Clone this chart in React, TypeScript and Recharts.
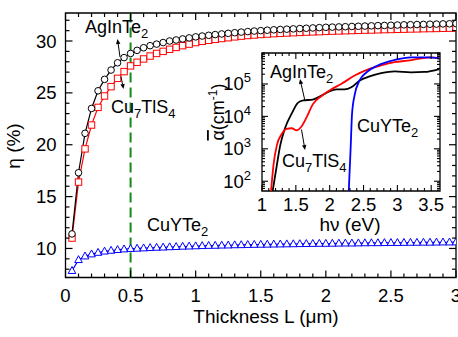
import React from "react";
import {
  ComposedChart,
  Line,
  XAxis,
  YAxis,
  ReferenceLine,
  ReferenceArea,
} from "recharts";

// main panel: efficiency vs thickness
const thickness = [
  0.05, 0.1, 0.15, 0.2, 0.25, 0.3, 0.35, 0.4, 0.45, 0.5,
  0.55, 0.6, 0.65, 0.7, 0.75, 0.8, 0.85, 0.9, 0.95, 1,
  1.05, 1.1, 1.15, 1.2, 1.25, 1.3, 1.35, 1.4, 1.45, 1.5,
  1.55, 1.6, 1.65, 1.7, 1.75, 1.8, 1.85, 1.9, 1.95, 2,
  2.05, 2.1, 2.15, 2.2, 2.25, 2.3, 2.35, 2.4, 2.45, 2.5,
  2.55, 2.6, 2.65, 2.7, 2.75, 2.8, 2.85, 2.9, 2.95, 3,
];
const etaAgInTe2 = [
  11.4, 17.3, 21.1, 23.5, 25.2, 26.3, 27.2, 27.9, 28.4, 28.8,
  29.1, 29.35, 29.55, 29.7, 29.85, 30.0, 30.1, 30.2, 30.3, 30.4,
  30.48, 30.55, 30.62, 30.68, 30.74, 30.8, 30.86, 30.91, 30.96, 31.0,
  31.04, 31.08, 31.11, 31.14, 31.17, 31.2, 31.23, 31.26, 31.29, 31.32,
  31.34, 31.36, 31.38, 31.4, 31.42, 31.44, 31.46, 31.48, 31.5, 31.52,
  31.54, 31.56, 31.57, 31.59, 31.6, 31.62, 31.63, 31.65, 31.66, 31.68,
];
const etaCu7TlS4 = [
  11.0, 16.4, 19.6, 21.9, 23.6, 24.7, 25.6, 26.4, 27.05, 27.6,
  27.95, 28.27, 28.55, 28.8, 29.0, 29.2, 29.38, 29.55, 29.7, 29.85,
  29.97, 30.07, 30.16, 30.24, 30.32, 30.4, 30.47, 30.53, 30.58, 30.63,
  30.67, 30.71, 30.74, 30.77, 30.8, 30.83, 30.86, 30.88, 30.9, 30.93,
  30.95, 30.97, 30.99, 31.01, 31.03, 31.05, 31.06, 31.08, 31.1, 31.11,
  31.13, 31.14, 31.16, 31.17, 31.19, 31.2, 31.21, 31.23, 31.24, 31.25,
];
const etaCuYTe2 = [
  7.85, 8.9, 9.25, 9.45, 9.6, 9.72, 9.8, 9.87, 9.93, 9.97,
  10.0, 10.03, 10.06, 10.09, 10.11, 10.14, 10.16, 10.19, 10.21, 10.23,
  10.25, 10.27, 10.28, 10.3, 10.31, 10.33, 10.34, 10.36, 10.37, 10.38,
  10.39, 10.4, 10.41, 10.42, 10.43, 10.44, 10.45, 10.46, 10.47, 10.47,
  10.48, 10.49, 10.5, 10.5, 10.51, 10.52, 10.53, 10.53, 10.54, 10.55,
  10.55, 10.56, 10.57, 10.57, 10.58, 10.58, 10.59, 10.6, 10.6, 10.61,
];
const mainXTicks = [
  0, 0.1, 0.2, 0.3, 0.4, 0.5, 0.6, 0.7, 0.8, 0.9, 1, 1.1, 1.2, 1.3, 1.4, 1.5,
  1.6, 1.7, 1.8, 1.9, 2, 2.1, 2.2, 2.3, 2.4, 2.5, 2.6, 2.7, 2.8, 2.9, 3,
];
const mainXLabels = ["0", "0.5", "1", "1.5", "2", "2.5", "3"];
const mainYTicks = [
  8, 9, 10, 11, 12, 13, 14, 15, 16, 17, 18, 19, 20, 21, 22, 23, 24, 25, 26,
  27, 28, 29, 30, 31, 32,
];
const mainYLabels = ["10", "15", "20", "25", "30"];

// inset: absorption coefficient vs photon energy
const energyAgInTe2 = [
  1.15, 1.22, 1.27, 1.34, 1.44, 1.53, 1.61, 1.75, 1.88, 2.0, 2.1, 2.22, 2.32,
  2.44, 2.59, 2.76, 2.96, 3.2, 3.4, 3.62,
];
const alphaAgInTe2 = [
  40, 320, 1300, 4300, 12300, 26000, 31000, 33000, 44000, 60000, 68000, 68000,
  79000, 126000, 170000, 214000, 245000, 229000, 234000, 288000,
];
const energyCu7TlS4 = [
  1.13, 1.17, 1.22, 1.29, 1.36, 1.44, 1.51, 1.58, 1.66, 1.75, 1.88, 2.02, 2.17,
  2.37, 2.56, 2.76, 2.96, 3.15, 3.35, 3.5, 3.62,
];
const alphaCu7TlS4 = [
  40, 320, 1300, 2800, 4100, 4300, 3700, 4800, 9500, 23400, 42700, 67600,
  100000, 182000, 275000, 372000, 468000, 525000, 617000, 661000, 617000,
];
const energyCuYTe2 = [2.28, 2.31, 2.33, 2.37, 2.44, 2.54, 2.71, 2.96, 3.2, 3.45, 3.62];
const alphaCuYTe2 = [
  40, 1100, 11700, 46800, 126000, 224000, 372000, 550000, 661000, 661000, 617000,
];
const insetXTicks = [
  1, 1.1, 1.2, 1.3, 1.4, 1.5, 1.6, 1.7, 1.8, 1.9, 2, 2.1, 2.2, 2.3, 2.4, 2.5,
  2.6, 2.7, 2.8, 2.9, 3, 3.1, 3.2, 3.3, 3.4, 3.5, 3.6,
];
const insetXLabels = ["1", "1.5", "2", "2.5", "3", "3.5"];
const insetYTicks = [
  60, 70, 80, 90, 100, 200, 300, 400, 500, 600, 700, 800, 900, 1000, 2000, 3000,
  4000, 5000, 6000, 7000, 8000, 9000, 10000, 20000, 30000, 40000, 50000, 60000,
  70000, 80000, 90000, 100000, 200000, 300000, 400000, 500000, 600000, 700000,
  800000, 900000,
];
const insetYExponents = ["2", "3", "4", "5"];

const FONT = "'Liberation Sans', Arial, Helvetica, sans-serif";
const TICK_FS = 18.5;
const TITLE_FS = 19;

// layout
const MAIN_TOP = 13;
const MAIN_LEFT = 65.5;
const MAIN_RIGHT = 456;
const MAIN_BOTTOM = 277.5;
const INSET_BOX = { left: 200, top: 50, width: 246, height: 190 };
const IN_LEFT = 62;
const IN_TOP = 3;
const IN_RIGHT = 240;
const IN_BOTTOM = 141;

const mainData = thickness.map((L, i) => ({
  L,
  agin: etaAgInTe2[i],
  cutl: etaCu7TlS4[i],
  cuy: etaCuYTe2[i],
}));
const insetAg = energyAgInTe2.map((e, i) => ({ e, a: alphaAgInTe2[i] }));
const insetCu7 = energyCu7TlS4.map((e, i) => ({ e, a: alphaCu7TlS4[i] }));
const insetCuY = energyCuYTe2.map((e, i) => ({ e, a: alphaCuYTe2[i] }));

const isHalf = (v: number) => Math.abs(v * 2 - Math.round(v * 2)) < 1e-6;

const MainXTick = ({ x, y, payload }: any) => {
  const v = payload.value;
  const major = isHalf(v);
  const len = major ? 7 : 4;
  const label = mainXLabels.find((s) => Math.abs(parseFloat(s) - v) < 1e-6);
  return (
    <g>
      <line x1={x} x2={x} y1={y} y2={y - len} stroke="#000" strokeWidth={1.2} />
      <line x1={x} x2={x} y1={MAIN_TOP} y2={MAIN_TOP + len} stroke="#000" strokeWidth={1.2} />
      {label && (
        <text x={x} y={y + 24} textAnchor="middle" fontSize={TICK_FS} fontFamily={FONT} fill="#000">
          {label}
        </text>
      )}
    </g>
  );
};

const MainYTick = ({ x, y, payload }: any) => {
  const v = payload.value;
  const major = v % 5 === 0;
  const len = major ? 7 : 4;
  const label = mainYLabels.find((s) => parseFloat(s) === v);
  return (
    <g>
      <line x1={x} x2={x + len} y1={y} y2={y} stroke="#000" strokeWidth={1.2} />
      <line x1={MAIN_RIGHT} x2={MAIN_RIGHT - len} y1={y} y2={y} stroke="#000" strokeWidth={1.2} />
      {label && (
        <text x={x - 9} y={y + 6.5} textAnchor="end" fontSize={TICK_FS} fontFamily={FONT} fill="#000">
          {label}
        </text>
      )}
    </g>
  );
};

const InsetXTick = ({ x, y, payload }: any) => {
  const v = payload.value;
  const major = isHalf(v);
  const len = major ? 6 : 3;
  const label = insetXLabels.find((s) => Math.abs(parseFloat(s) - v) < 1e-6);
  return (
    <g>
      <line x1={x} x2={x} y1={y} y2={y - len} stroke="#000" strokeWidth={1.1} />
      <line x1={x} x2={x} y1={IN_TOP} y2={IN_TOP + len} stroke="#000" strokeWidth={1.1} />
      {label && (
        <text x={x} y={y + 20} textAnchor="middle" fontSize={TICK_FS} fontFamily={FONT} fill="#000">
          {label}
        </text>
      )}
    </g>
  );
};

const InsetYTick = ({ x, y, payload }: any) => {
  const v = payload.value;
  const exp = Math.log10(v);
  const major = Math.abs(exp - Math.round(exp)) < 1e-6;
  const len = major ? 6 : 3;
  const label = major ? insetYExponents.find((s) => parseFloat(s) === Math.round(exp)) : undefined;
  return (
    <g>
      <line x1={x} x2={x + len} y1={y} y2={y} stroke="#000" strokeWidth={1.1} />
      <line x1={IN_RIGHT} x2={IN_RIGHT - len} y1={y} y2={y} stroke="#000" strokeWidth={1.1} />
      {label && (
        <text x={x - 11} y={y + 6.5} textAnchor="end" fontSize={TICK_FS} fontFamily={FONT} fill="#000">
          10
          <tspan dy={-8} fontSize={13}>
            {label}
          </tspan>
        </text>
      )}
    </g>
  );
};

const squareDot = (props: any) => {
  const { cx, cy, index } = props;
  return (
    <rect key={`sq-${index}`} x={cx - 3.2} y={cy - 3.2} width={6.4} height={6.4} fill="#fff" stroke="#f00" strokeWidth={1} />
  );
};

const triangleDot = (props: any) => {
  const { cx, cy, index } = props;
  return (
    <polygon
      key={`tr-${index}`}
      points={`${cx},${cy - 4.2} ${cx - 3.8},${cy + 2.7} ${cx + 3.8},${cy + 2.7}`}
      fill="#fff"
      stroke="#00f"
      strokeWidth={1}
    />
  );
};

const Arrow = ({ x1, y1, x2, y2 }: { x1: number; y1: number; x2: number; y2: number }) => {
  const ang = Math.atan2(y2 - y1, x2 - x1);
  const h = 5;
  const w = 2.2;
  const bx = x2 - h * Math.cos(ang);
  const by = y2 - h * Math.sin(ang);
  const px = -Math.sin(ang) * w;
  const py = Math.cos(ang) * w;
  return (
    <g>
      <line x1={x1} y1={y1} x2={bx} y2={by} stroke="#000" strokeWidth={1} />
      <polygon points={`${x2},${y2} ${bx + px},${by + py} ${bx - px},${by - py}`} fill="#000" />
    </g>
  );
};

const Formula = ({ x, y, parts }: { x: number; y: number; parts: [string, boolean][] }) => (
  <text x={x} y={y} fontSize={18} fontFamily={FONT} fill="#000">
    {parts.map(([s, sub], i) => {
      const prevSub = i > 0 && parts[i - 1][1];
      const dy = sub ? 5 : prevSub ? -5 : 0;
      return (
        <tspan key={i} dy={dy} fontSize={sub ? 13 : 18}>
          {s}
        </tspan>
      );
    })}
  </text>
);

export default function App() {
  return (
    <div style={{ position: "absolute", left: 0, top: 0, width: 458, height: 337, background: "#fff" }}>
      <div style={{ position: "absolute", left: 0, top: 0 }}>
        <ComposedChart
          width={458}
          height={337}
          data={mainData}
          margin={{ top: MAIN_TOP, right: 458 - MAIN_RIGHT, left: 0, bottom: 0 }}
        >
          <XAxis
            dataKey="L"
            type="number"
            domain={[0, 3]}
            allowDataOverflow
            ticks={mainXTicks}
            interval={0}
            tick={<MainXTick />}
            tickLine={false}
            axisLine={false}
            tickSize={0}
            tickMargin={0}
            height={337 - MAIN_BOTTOM}
          />
          <YAxis
            type="number"
            domain={[7.2, 32.7]}
            allowDataOverflow
            ticks={mainYTicks}
            interval={0}
            tick={<MainYTick />}
            tickLine={false}
            axisLine={false}
            tickSize={0}
            tickMargin={0}
            width={MAIN_LEFT}
          />
          <ReferenceArea x1={0} x2={3} y1={7.2} y2={32.7} fill="none" stroke="#000" strokeWidth={1.3} fillOpacity={0} />
          <ReferenceLine x={0.5} stroke="#168a16" strokeWidth={2} strokeDasharray="10 5" />
          <Line
            dataKey="cuy"
            stroke="#00f"
            strokeWidth={1.2}
            dot={triangleDot}
            isAnimationActive={false}
          />
          <Line
            dataKey="cutl"
            stroke="#f00"
            strokeWidth={1.2}
            dot={squareDot}
            isAnimationActive={false}
          />
          <Line
            dataKey="agin"
            stroke="#000"
            strokeWidth={1.2}
            dot={{ r: 3.3, fill: "#fff", stroke: "#000", strokeWidth: 1 }}
            isAnimationActive={false}
          />
        </ComposedChart>
      </div>

      {/* inset background */}
      <div
        style={{
          position: "absolute",
          left: INSET_BOX.left + IN_LEFT,
          top: INSET_BOX.top + IN_TOP,
          width: IN_RIGHT - IN_LEFT,
          height: IN_BOTTOM - IN_TOP,
          background: "#fff",
        }}
      />
      <div style={{ position: "absolute", left: INSET_BOX.left, top: INSET_BOX.top }}>
        <ComposedChart
          width={INSET_BOX.width}
          height={INSET_BOX.height}
          margin={{ top: IN_TOP, right: INSET_BOX.width - IN_RIGHT, left: 0, bottom: 0 }}
        >
          <XAxis
            dataKey="e"
            type="number"
            domain={[1, 3.63]}
            allowDataOverflow
            ticks={insetXTicks}
            interval={0}
            tick={<InsetXTick />}
            tickLine={false}
            axisLine={false}
            tickSize={0}
            tickMargin={0}
            height={INSET_BOX.height - IN_BOTTOM}
          />
          <YAxis
            type="number"
            scale="log"
            domain={[50, 900000]}
            allowDataOverflow
            ticks={insetYTicks}
            interval={0}
            tick={<InsetYTick />}
            tickLine={false}
            axisLine={false}
            tickSize={0}
            tickMargin={0}
            width={IN_LEFT}
          />
          <ReferenceArea x1={1} x2={3.63} y1={50} y2={900000} fill="none" fillOpacity={0} stroke="#000" strokeWidth={1.3} />
          <Line data={insetAg} dataKey="a" type="monotone" stroke="#000" strokeWidth={1.8} dot={false} isAnimationActive={false} />
          <Line data={insetCu7} dataKey="a" type="monotone" stroke="#f00" strokeWidth={1.8} dot={false} isAnimationActive={false} />
          <Line data={insetCuY} dataKey="a" type="monotone" stroke="#00f" strokeWidth={1.8} dot={false} isAnimationActive={false} />
        </ComposedChart>
      </div>

      {/* labels and annotations */}
      <svg
        width={458}
        height={337}
        style={{ position: "absolute", left: 0, top: 0, pointerEvents: "none" }}
      >
        <text x={266} y={323} textAnchor="middle" fontSize={TITLE_FS} fontFamily={FONT}>
          Thickness L (μm)
        </text>
        <text transform="translate(20,146) rotate(-90)" textAnchor="middle" fontSize={TITLE_FS} fontFamily={FONT}>
          η (%)
        </text>
        <text x={350} y={231} textAnchor="middle" fontSize={TITLE_FS} fontFamily={FONT}>
          hν (eV)
        </text>
        <text transform="translate(224,112) rotate(-90)" textAnchor="middle" fontSize={18} fontFamily={FONT}>
          <tspan style={{ textDecoration: "overline" }}>α</tspan>
          (cm
          <tspan dy={-7} fontSize={12}>-1</tspan>
          <tspan dy={7}>)</tspan>
        </text>

        <Formula x={85} y={33} parts={[["AgInTe", false], ["2", true]]} />
        <Arrow x1={120} y1={57} x2={117.5} y2={39} />
        <Formula x={111} y={113} parts={[["Cu", false], ["7", true], ["TlS", false], ["4", true]]} />
        <Arrow x1={121} y1={76.5} x2={123.5} y2={89} />
        <Formula x={147} y={231} parts={[["CuYTe", false], ["2", true]]} />

        <Formula x={270} y={78} parts={[["AgInTe", false], ["2", true]]} />
        <Arrow x1={305} y1={101} x2={300} y2={79} />
        <Formula x={282} y={167} parts={[["Cu", false], ["7", true], ["TlS", false], ["4", true]]} />
        <Arrow x1={301.5} y1={129.5} x2={305} y2={150} />
        <Formula x={357} y={132} parts={[["CuYTe", false], ["2", true]]} />
      </svg>
    </div>
  );
}
